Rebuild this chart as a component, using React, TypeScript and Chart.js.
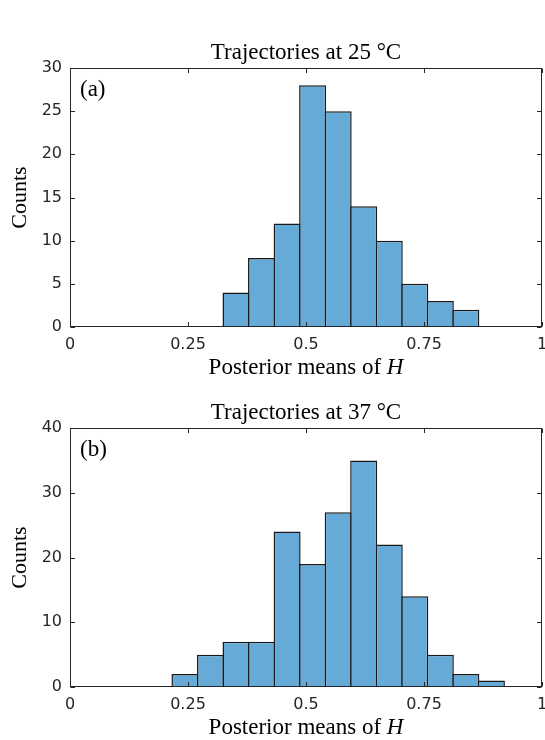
import React, { useEffect, useRef } from 'react';
import { Chart, registerables } from 'chart.js';

Chart.register(...registerables);

// ---- data ----
const xTickValues = [0, 0.25, 0.5, 0.75, 1];
const xTickLabels = ['0', '0.25', '0.5', '0.75', '1'];

const binEdges25 = [0.3247, 0.3788, 0.4329, 0.487, 0.5411, 0.5952, 0.6493, 0.7034, 0.7575, 0.8116, 0.8657];
const counts25 = [4, 8, 12, 28, 25, 14, 10, 5, 3, 2];

const binEdges37 = [0.2165, 0.2706, 0.3247, 0.3788, 0.4329, 0.487, 0.5411, 0.5952, 0.6493, 0.7034, 0.7575, 0.8116, 0.8657, 0.9198];
const counts37 = [2, 5, 7, 7, 24, 19, 27, 35, 22, 14, 5, 2, 1];

const yMax25 = 30;
const yStep25 = 5;
const yMax37 = 40;
const yStep37 = 10;

const title25 = 'Trajectories at 25 °C';
const title37 = 'Trajectories at 37 °C';
const panel25 = '(a)';
const panel37 = '(b)';
const yTitle = 'Counts';
const xTitleMain = 'Posterior means of ';
const xTitleVar = 'H';

// ---- styles ----
const SERIF = '"Liberation Serif", "DejaVu Serif", serif';
const SANS = '"DejaVu Sans", sans-serif';
const AXIS_COLOR = '#262626';
const BAR_FILL = '#66aad7';
const BAR_EDGE = '#1a1a1a';

function framePlugin(title: string, panel: string) {
  return {
    id: 'matlabFrame',
    afterDatasetsDraw(chart: any) {
      const { ctx, chartArea } = chart;
      const { left, right, top, bottom } = chartArea;
      const xs = chart.scales.x;
      const ys = chart.scales.y;
      const L = Math.round(left) + 0.5;
      const R = Math.round(right) - 0.5;
      const T = Math.round(top) + 0.5;
      const B = Math.round(bottom) - 0.5;
      const tl = 4.5;

      ctx.save();
      ctx.strokeStyle = AXIS_COLOR;
      ctx.lineWidth = 1;
      // box
      ctx.beginPath();
      ctx.moveTo(L, top);
      ctx.lineTo(L, bottom);
      ctx.stroke();
      ctx.beginPath();
      ctx.moveTo(R, top);
      ctx.lineTo(R, bottom);
      ctx.stroke();
      ctx.beginPath();
      ctx.moveTo(left, T);
      ctx.lineTo(right, T);
      ctx.stroke();
      ctx.beginPath();
      ctx.moveTo(left, B);
      ctx.lineTo(right, B);
      ctx.stroke();
      // inward ticks on all four sides
      ctx.beginPath();
      xTickValues.forEach((v) => {
        const px = Math.round(xs.getPixelForValue(v)) + 0.5;
        ctx.moveTo(px, B);
        ctx.lineTo(px, B - tl);
        ctx.moveTo(px, T);
        ctx.lineTo(px, T + tl);
      });
      ys.ticks.forEach((t: any) => {
        const py = Math.round(ys.getPixelForValue(t.value)) + 0.5;
        ctx.moveTo(L, py);
        ctx.lineTo(L + tl, py);
        ctx.moveTo(R, py);
        ctx.lineTo(R - tl, py);
      });
      ctx.stroke();

      const cx = (left + right) / 2;
      ctx.fillStyle = '#000';

      // title centred over the axes
      ctx.font = `23px ${SERIF}`;
      ctx.textAlign = 'center';
      ctx.textBaseline = 'alphabetic';
      ctx.fillText(title, cx, top - 9);

      // panel label
      ctx.textAlign = 'left';
      ctx.textBaseline = 'middle';
      ctx.fillText(panel, left + 10, top + 22);

      // x axis title with italic variable
      ctx.textBaseline = 'alphabetic';
      ctx.font = `23px ${SERIF}`;
      const w1 = ctx.measureText(xTitleMain).width;
      ctx.font = `italic 23px ${SERIF}`;
      const w2 = ctx.measureText(xTitleVar).width;
      const x0 = cx - (w1 + w2) / 2;
      const by = bottom + 47;
      ctx.font = `23px ${SERIF}`;
      ctx.fillText(xTitleMain, x0, by);
      ctx.font = `italic 23px ${SERIF}`;
      ctx.fillText(xTitleVar, x0 + w1, by);
      ctx.restore();
    },
  };
}

function makeConfig(edges: number[], counts: number[], yMax: number, yStep: number, title: string, panel: string): any {
  const points = counts.map((c, i) => ({ x: (edges[i] + edges[i + 1]) / 2, y: c }));
  return {
    type: 'bar',
    data: {
      datasets: [
        {
          data: points,
          backgroundColor: BAR_FILL,
          borderColor: BAR_EDGE,
          borderWidth: 1.5,
          borderSkipped: 'start',
          barPercentage: 1.0587,
          categoryPercentage: 1,
        },
      ],
    },
    options: {
      responsive: false,
      animation: false,
      layout: { padding: { left: 0, right: 3, top: 68, bottom: 0 } },
      plugins: {
        legend: { display: false },
        tooltip: { enabled: false },
        title: { display: false },
      },
      scales: {
        x: {
          type: 'linear',
          min: 0,
          max: 1,
          offset: false,
          grid: { display: false, drawTicks: false, offset: false },
          border: { display: false },
          ticks: {
            color: AXIS_COLOR,
            font: { family: SANS, size: 16 },
            padding: 8,
            maxRotation: 0,
            autoSkip: false,
            callback: (v: number) => {
              const i = xTickValues.findIndex((t) => Math.abs(t - v) < 1e-9);
              return i >= 0 ? xTickLabels[i] : '';
            },
          },
          afterBuildTicks: (s: any) => {
            s.ticks = xTickValues.map((v) => ({ value: v }));
          },
          afterFit: (s: any) => {
            s.height = 53;
            s.paddingLeft = 0;
            s.paddingRight = 0;
          },
        },
        y: {
          min: 0,
          max: yMax,
          grid: { display: false, drawTicks: false },
          border: { display: false },
          ticks: {
            stepSize: yStep,
            color: AXIS_COLOR,
            font: { family: SANS, size: 16 },
            padding: 8,
          },
          title: {
            display: true,
            text: yTitle,
            color: '#000',
            font: { family: SERIF, size: 22, weight: 'normal', lineHeight: '24px' },
            padding: { top: 8, bottom: 0 },
          },
          afterFit: (s: any) => {
            s.width = 70;
            s.paddingTop = 0;
            s.paddingBottom = 0;
          },
        },
      },
    },
    plugins: [framePlugin(title, panel)],
  };
}

function HistChart(props: { edges: number[]; counts: number[]; yMax: number; yStep: number; title: string; panel: string; top: number }) {
  const ref = useRef<HTMLCanvasElement | null>(null);
  useEffect(() => {
    if (!ref.current) return;
    const chart = new Chart(ref.current, makeConfig(props.edges, props.counts, props.yMax, props.yStep, props.title, props.panel));
    return () => chart.destroy();
  }, []);
  return (
    <canvas
      ref={ref}
      width={545}
      height={380}
      style={{ position: 'absolute', left: 0, top: props.top, width: 545, height: 380 }}
    />
  );
}

export default function App() {
  return (
    <div style={{ position: 'absolute', left: 0, top: 0, width: 545, height: 740, background: '#fff', overflow: 'hidden' }}>
      <HistChart edges={binEdges25} counts={counts25} yMax={yMax25} yStep={yStep25} title={title25} panel={panel25} top={0} />
      <HistChart edges={binEdges37} counts={counts37} yMax={yMax37} yStep={yStep37} title={title37} panel={panel37} top={360} />
    </div>
  );
}
